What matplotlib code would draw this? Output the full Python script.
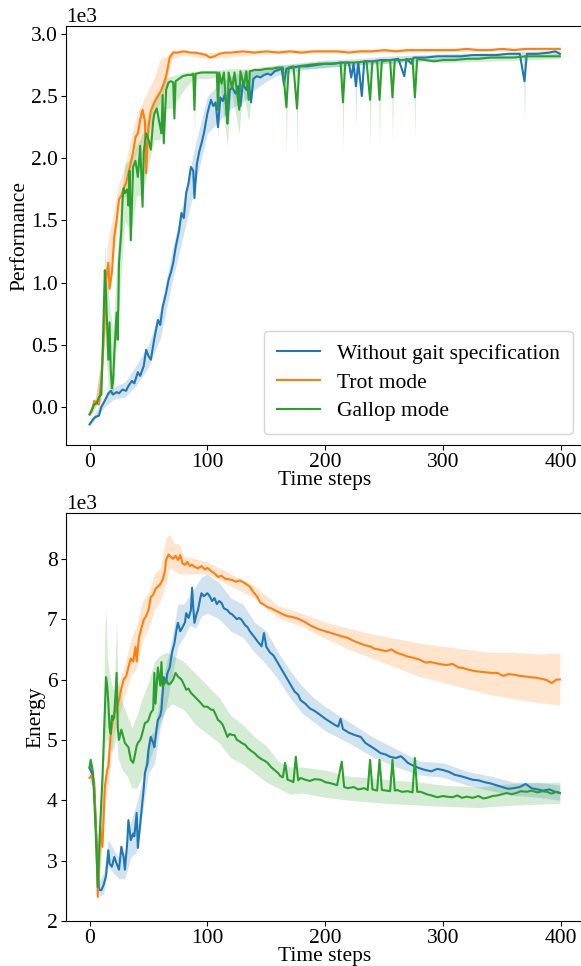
import numpy as np
import matplotlib
matplotlib.use("Agg")
import matplotlib.pyplot as plt

plt.rcParams["font.family"] = ["Liberation Serif", "DejaVu Serif"]
plt.rcParams["font.size"] = 15.5

SCALE = 1000.0
LABELS = ["Without gait specification", "Trot mode", "Gallop mode"]
COLORS = ["#1f77b4", "#ff7f0e", "#2ca02c"]

# ---------------- Performance (values in thousands) ----------------
perf_x_none = [0, 3, 5, 8, 10, 13, 16, 18, 20, 23,
               25, 28, 31, 33, 36, 38, 41, 43, 46, 48,
               50, 52, 55, 58, 60, 62, 65, 67, 69, 71,
               73, 76, 78, 80, 82, 84, 86, 88, 89, 91,
               93, 95, 97, 100, 103, 105, 107, 109, 111, 113,
               115, 117, 119, 121, 124, 126, 128, 130, 133, 135,
               137, 139, 142, 145, 148, 151, 154, 157, 160, 163,
               165, 167, 172, 178, 185, 192, 200, 207, 214, 220,
               222, 224, 226, 228, 231, 233, 240, 247, 255, 262,
               267, 269, 273, 275, 285, 295, 305, 315, 325, 335,
               345, 355, 365, 369, 371, 380, 390, 395, 399]
perf_none = [-0.14, -0.10, -0.08, -0.07, 0.00, 0.05, 0.11, 0.13, 0.10, 0.12,
             0.11, 0.14, 0.13, 0.17, 0.21, 0.19, 0.28, 0.25, 0.33, 0.46,
             0.41, 0.38, 0.55, 0.70, 0.66, 0.80, 0.92, 1.02, 1.08, 1.16,
             1.28, 1.42, 1.56, 1.52, 1.72, 1.80, 1.93, 1.90, 1.68, 1.95,
             2.05, 2.12, 2.20, 2.36, 2.47, 2.42, 2.45, 2.25, 2.49, 2.46,
             2.52, 2.28, 2.55, 2.57, 2.52, 2.58, 2.42, 2.60, 2.55, 2.62,
             2.45, 2.64, 2.66, 2.65, 2.67, 2.68, 2.67, 2.70, 2.71, 2.72,
             2.59, 2.72, 2.73, 2.74, 2.74, 2.75, 2.76, 2.76, 2.77, 2.77,
             2.65, 2.76, 2.58, 2.77, 2.50, 2.78, 2.78, 2.79, 2.79, 2.80,
             2.66, 2.80, 2.76, 2.81, 2.81, 2.82, 2.82, 2.82, 2.83, 2.83,
             2.83, 2.84, 2.84, 2.62, 2.84, 2.84, 2.85, 2.86, 2.84]
perf_band_x_none = [0, 10, 20, 30, 40, 50, 60, 70, 80, 90,
                    100, 110, 120, 130, 140, 150, 160, 180, 200, 225,
                    226, 227, 250, 300, 350, 368, 369, 370, 399]
perf_lo_none = [-0.16, -0.03, 0.06, 0.08, 0.18, 0.32, 0.55, 1.00, 1.40, 1.80,
                2.20, 2.30, 2.40, 2.45, 2.55, 2.62, 2.67, 2.71, 2.73, 2.75,
                2.25, 2.75, 2.76, 2.80, 2.81, 2.82, 2.30, 2.82, 2.82]
perf_hi_none = [-0.12, 0.04, 0.16, 0.20, 0.34, 0.50, 0.78, 1.25, 1.68, 2.12,
                2.50, 2.60, 2.66, 2.70, 2.72, 2.73, 2.75, 2.77, 2.79, 2.80,
                2.80, 2.80, 2.82, 2.84, 2.85, 2.86, 2.86, 2.86, 2.87]

perf_x_trot = [0, 2, 4, 6, 8, 10, 12, 13, 14, 16,
               17, 19, 21, 23, 25, 27, 29, 31, 33, 35,
               37, 39, 41, 43, 45, 47, 48, 50, 52, 55,
               58, 61, 63, 65, 67, 68, 71, 75, 80, 85,
               90, 95, 99, 102, 106, 110, 115, 120, 130, 140,
               150, 160, 170, 180, 190, 200, 210, 220, 230, 240,
               250, 260, 270, 280, 290, 300, 310, 320, 330, 340,
               350, 360, 370, 380, 390, 399]
perf_trot = [-0.06, -0.03, 0.05, 0.03, 0.02, 0.22, 0.55, 0.75, 1.02, 1.16,
             0.95, 1.08, 1.37, 1.50, 1.67, 1.70, 1.76, 1.80, 1.88, 1.96,
             2.05, 2.17, 2.20, 2.31, 2.39, 2.30, 1.88, 2.25, 2.38, 2.45,
             2.50, 2.55, 2.60, 2.66, 2.76, 2.81, 2.85, 2.85, 2.86, 2.85,
             2.85, 2.84, 2.83, 2.81, 2.82, 2.84, 2.85, 2.85, 2.86, 2.85,
             2.86, 2.85, 2.86, 2.85, 2.86, 2.86, 2.86, 2.85, 2.86, 2.86,
             2.87, 2.86, 2.87, 2.87, 2.87, 2.87, 2.87, 2.88, 2.87, 2.87,
             2.88, 2.87, 2.88, 2.88, 2.88, 2.88]
perf_band_x_trot = [0, 5, 10, 15, 20, 25, 30, 40, 50, 55,
                    60, 65, 70, 80, 100, 150, 250, 399]
perf_lo_trot = [-0.08, 0.00, 0.12, 0.85, 1.20, 1.55, 1.70, 2.05, 2.20, 2.35,
                2.45, 2.58, 2.80, 2.83, 2.80, 2.84, 2.85, 2.87]
perf_hi_trot = [-0.04, 0.08, 0.35, 1.30, 1.55, 1.80, 1.95, 2.35, 2.55, 2.65,
                2.80, 2.82, 2.87, 2.87, 2.85, 2.87, 2.88, 2.89]

perf_x_gallop = [0, 2, 4, 6, 8, 10, 11, 13, 14, 16,
                 17, 18, 19, 20, 21, 23, 24, 25, 27, 28,
                 29, 30, 32, 33, 34, 35, 37, 39, 41, 43,
                 45, 46, 48, 50, 52, 54, 55, 57, 59, 61,
                 62, 63, 65, 67, 69, 71, 72, 73, 76, 79,
                 83, 86, 88, 89, 90, 95, 100, 105, 108, 109,
                 110, 112, 114, 117, 118, 121, 123, 127, 128, 131,
                 133, 135, 136, 140, 145, 150, 155, 160, 164, 167,
                 169, 173, 176, 178, 185, 195, 205, 213, 215, 217,
                 225, 235, 238, 240, 244, 246, 248, 255, 257, 259,
                 265, 274, 276, 278, 285, 292, 300, 310, 320, 330,
                 340, 350, 360, 370, 380, 390, 399]
perf_gallop = [-0.06, -0.02, 0.02, 0.03, 0.08, 0.10, 0.40, 1.10, 0.90, 0.38,
               0.68, 0.30, 0.15, 0.20, 0.43, 0.76, 0.54, 1.16, 1.42, 1.67,
               1.76, 1.72, 1.75, 1.62, 1.90, 1.34, 1.93, 1.98, 1.85, 2.10,
               1.61, 2.05, 2.20, 2.15, 2.07, 2.30, 2.36, 2.40, 2.30, 2.20,
               2.51, 2.12, 2.55, 2.61, 2.62, 2.61, 2.32, 2.62, 2.64, 2.66,
               2.67, 2.67, 2.68, 2.39, 2.68, 2.69, 2.69, 2.69, 2.69, 2.39,
               2.69, 2.60, 2.69, 2.28, 2.69, 2.56, 2.69, 2.39, 2.70, 2.58,
               2.70, 2.47, 2.70, 2.71, 2.71, 2.72, 2.72, 2.73, 2.73, 2.41,
               2.73, 2.74, 2.40, 2.74, 2.75, 2.76, 2.76, 2.77, 2.45, 2.77,
               2.77, 2.78, 2.47, 2.78, 2.78, 2.47, 2.78, 2.79, 2.49, 2.79,
               2.79, 2.80, 2.49, 2.80, 2.79, 2.78, 2.79, 2.79, 2.80, 2.80,
               2.81, 2.81, 2.81, 2.82, 2.82, 2.82, 2.82]
perf_band_x_gallop = [0, 5, 10, 13, 16, 20, 25, 30, 35, 40,
                      45, 50, 55, 60, 65, 70, 80, 88, 89, 90,
                      100, 108, 109, 110, 117, 120, 127, 130, 135, 140,
                      160, 166, 167, 168, 175, 176, 177, 200, 214, 215,
                      216, 237, 238, 239, 245, 246, 247, 256, 257, 258,
                      275, 276, 277, 300, 399]
perf_lo_gallop = [-0.08, 0.00, 0.05, 0.60, 0.10, 0.10, 0.80, 1.50, 1.40, 1.70,
                  1.70, 1.95, 2.15, 2.15, 2.40, 2.40, 2.55, 2.64, 2.20, 2.64,
                  2.64, 2.65, 2.15, 2.64, 2.10, 2.55, 2.20, 2.55, 2.30, 2.66,
                  2.70, 2.71, 2.01, 2.71, 2.72, 2.01, 2.72, 2.73, 2.74, 2.07,
                  2.74, 2.76, 2.10, 2.76, 2.76, 2.10, 2.76, 2.77, 2.12, 2.77,
                  2.78, 2.15, 2.78, 2.77, 2.80]
perf_hi_gallop = [-0.04, 0.06, 0.40, 1.30, 0.90, 0.60, 1.50, 1.95, 2.00, 2.10,
                  2.20, 2.35, 2.50, 2.55, 2.65, 2.66, 2.69, 2.70, 2.70, 2.70,
                  2.71, 2.71, 2.71, 2.71, 2.72, 2.72, 2.72, 2.72, 2.72, 2.73,
                  2.75, 2.75, 2.75, 2.75, 2.76, 2.76, 2.76, 2.78, 2.78, 2.78,
                  2.78, 2.79, 2.79, 2.79, 2.79, 2.79, 2.79, 2.80, 2.80, 2.80,
                  2.80, 2.80, 2.80, 2.81, 2.84]

# ---------------- Energy (values in thousands) ----------------
en_x_none = [0, 2, 4, 6, 8, 10, 12, 14, 16, 17,
             19, 21, 23, 25, 27, 29, 30, 32, 33, 35,
             37, 38, 40, 41, 43, 44, 46, 47, 49, 50,
             52, 54, 55, 57, 58, 60, 61, 63, 65, 66,
             68, 70, 72, 74, 75, 77, 79, 81, 82, 84,
             86, 87, 88, 89, 91, 92, 94, 95, 97, 100,
             102, 104, 106, 108, 110, 112, 114, 117, 119, 121,
             123, 125, 127, 129, 132, 134, 136, 138, 140, 143,
             146, 148, 150, 153, 156, 159, 162, 165, 168, 171,
             174, 177, 179, 183, 187, 191, 196, 200, 204, 208,
             211, 213, 215, 220, 225, 230, 234, 238, 242, 247,
             251, 255, 260, 264, 266, 270, 275, 280, 285, 290,
             295, 300, 305, 310, 315, 320, 325, 330, 335, 340,
             345, 350, 355, 360, 365, 370, 375, 380, 385, 390,
             395, 399]
en_none = [4.53, 4.45, 4.20, 3.30, 2.52, 2.51, 2.60, 2.75, 3.17, 2.95,
           2.90, 3.06, 2.95, 2.85, 3.23, 3.05, 2.85, 3.30, 3.67, 3.34,
           3.45, 3.40, 3.79, 3.21, 3.60, 3.79, 4.20, 4.45, 4.60, 4.83,
           5.05, 4.95, 4.88, 5.20, 5.33, 5.40, 5.50, 6.04, 5.95, 6.10,
           6.20, 6.45, 6.60, 6.85, 6.94, 6.80, 6.87, 6.95, 7.10, 7.02,
           7.15, 7.52, 7.20, 6.94, 7.10, 7.15, 7.35, 7.43, 7.38, 7.43,
           7.38, 7.30, 7.35, 7.25, 7.30, 7.27, 7.18, 7.15, 7.10, 7.08,
           7.04, 7.00, 7.02, 6.99, 6.90, 6.87, 6.80, 6.75, 6.70, 6.62,
           6.55, 6.77, 6.54, 6.45, 6.40, 6.30, 6.20, 6.10, 6.00, 5.90,
           5.80, 5.75, 5.66, 5.60, 5.52, 5.48, 5.41, 5.35, 5.30, 5.25,
           5.22, 5.35, 5.18, 5.12, 5.08, 5.05, 4.95, 4.90, 4.85, 4.78,
           4.76, 4.72, 4.70, 4.73, 4.70, 4.62, 4.57, 4.53, 4.50, 4.48,
           4.52, 4.50, 4.47, 4.42, 4.40, 4.37, 4.34, 4.33, 4.30, 4.28,
           4.25, 4.22, 4.19, 4.20, 4.22, 4.27, 4.20, 4.18, 4.16, 4.18,
           4.14, 4.12]
en_band_x_none = [0, 4, 8, 12, 16, 20, 25, 30, 35, 40,
                  45, 50, 55, 60, 65, 70, 75, 80, 85, 90,
                  95, 100, 110, 120, 130, 140, 150, 160, 170, 180,
                  190, 200, 220, 240, 260, 280, 300, 320, 340, 360,
                  380, 399]
en_lo_none = [4.45, 4.05, 2.40, 2.45, 2.90, 2.80, 2.70, 2.70, 3.05, 3.15,
              3.80, 4.45, 4.60, 5.20, 5.55, 6.05, 6.55, 6.70, 6.90, 6.85,
              7.05, 7.10, 7.00, 6.80, 6.70, 6.45, 6.25, 6.00, 5.70, 5.45,
              5.30, 5.15, 4.95, 4.72, 4.55, 4.42, 4.38, 4.25, 4.16, 4.08,
              4.05, 4.00]
en_hi_none = [4.60, 4.35, 2.65, 2.80, 3.35, 3.20, 3.05, 3.15, 3.65, 3.95,
              4.35, 5.05, 5.15, 5.75, 6.25, 6.70, 7.25, 7.25, 7.40, 7.55,
              7.70, 7.75, 7.60, 7.35, 7.25, 6.95, 6.80, 6.45, 6.15, 5.90,
              5.70, 5.55, 5.30, 5.05, 4.85, 4.65, 4.62, 4.48, 4.40, 4.30,
              4.30, 4.25]

en_x_trot = [0, 2, 4, 6, 7, 9, 11, 13, 15, 16,
             18, 20, 21, 23, 25, 27, 29, 31, 33, 35,
             37, 39, 40, 42, 44, 46, 48, 50, 52, 54,
             56, 58, 60, 62, 64, 65, 67, 69, 71, 73,
             75, 77, 79, 81, 83, 85, 87, 89, 92, 95,
             98, 100, 103, 106, 109, 112, 115, 118, 121, 124,
             127, 130, 133, 136, 139, 142, 145, 148, 151, 154,
             157, 160, 164, 168, 171, 175, 179, 183, 187, 190,
             195, 200, 205, 210, 215, 219, 224, 228, 233, 238,
             242, 247, 252, 256, 261, 266, 270, 275, 280, 285,
             289, 294, 299, 303, 308, 313, 317, 322, 327, 331,
             336, 341, 346, 351, 355, 360, 365, 370, 374, 379,
             384, 388, 392, 396, 399]
en_trot = [4.37, 4.42, 4.30, 3.20, 2.40, 3.56, 3.23, 4.22, 4.50, 4.55,
           5.10, 5.35, 5.45, 5.50, 5.66, 5.85, 6.00, 6.05, 6.20, 6.35,
           6.30, 6.54, 6.30, 6.70, 6.85, 6.99, 7.05, 7.15, 7.37, 7.40,
           7.50, 7.54, 7.58, 7.65, 7.80, 7.98, 8.07, 8.03, 8.00, 8.05,
           7.98, 8.06, 7.92, 7.90, 7.95, 7.88, 7.90, 7.87, 7.84, 7.88,
           7.82, 7.85, 7.80, 7.76, 7.70, 7.72, 7.67, 7.66, 7.65, 7.62,
           7.64, 7.62, 7.58, 7.54, 7.45, 7.38, 7.27, 7.24, 7.20, 7.18,
           7.15, 7.12, 7.08, 7.05, 7.04, 7.02, 6.99, 6.95, 6.90, 6.87,
           6.83, 6.80, 6.77, 6.74, 6.71, 6.69, 6.64, 6.61, 6.57, 6.55,
           6.51, 6.49, 6.47, 6.50, 6.44, 6.41, 6.38, 6.36, 6.33, 6.28,
           6.29, 6.27, 6.25, 6.24, 6.26, 6.20, 6.19, 6.16, 6.14, 6.13,
           6.12, 6.11, 6.11, 6.06, 6.09, 6.08, 6.06, 6.05, 6.04, 6.03,
           6.01, 5.99, 5.94, 6.00, 6.00]
en_band_x_trot = [0, 4, 7, 10, 13, 16, 20, 25, 30, 35,
                  40, 45, 50, 55, 60, 65, 68, 72, 76, 80,
                  90, 100, 120, 140, 160, 180, 200, 220, 240, 260,
                  280, 300, 320, 340, 360, 380, 399]
en_lo_trot = [4.30, 4.20, 2.30, 3.00, 3.90, 4.25, 5.05, 5.40, 5.75, 6.05,
              6.20, 6.65, 6.85, 7.15, 7.30, 7.60, 7.85, 7.80, 7.75, 7.75,
              7.75, 7.75, 7.55, 7.35, 7.02, 6.88, 6.68, 6.50, 6.35, 6.20,
              6.05, 5.95, 5.85, 5.75, 5.68, 5.62, 5.58]
en_hi_trot = [4.45, 4.40, 2.55, 3.80, 4.50, 4.85, 5.65, 5.95, 6.25, 6.65,
              6.90, 7.30, 7.45, 7.75, 7.85, 8.35, 8.40, 8.25, 8.25, 8.05,
              8.00, 7.95, 7.75, 7.55, 7.22, 7.10, 6.95, 6.85, 6.75, 6.68,
              6.60, 6.55, 6.50, 6.45, 6.45, 6.42, 6.44]

en_x_gallop = [0, 1, 3, 5, 7, 9, 11, 13, 14, 15,
               16, 17, 18, 19, 20, 21, 22, 23, 24, 25,
               27, 28, 30, 32, 33, 35, 37, 38, 40, 41,
               43, 44, 46, 47, 49, 50, 52, 54, 55, 56,
               58, 60, 61, 62, 64, 65, 67, 69, 71, 73,
               75, 78, 80, 82, 84, 86, 88, 90, 92, 94,
               97, 100, 103, 105, 107, 109, 111, 113, 115, 117,
               119, 121, 123, 125, 127, 129, 132, 134, 137, 140,
               143, 146, 149, 151, 154, 157, 160, 162, 164, 166,
               168, 171, 173, 175, 177, 179, 183, 187, 191, 196,
               200, 205, 210, 214, 216, 219, 224, 228, 233, 236,
               238, 240, 244, 246, 248, 252, 255, 257, 259, 261,
               265, 270, 274, 276, 278, 281, 286, 290, 295, 300,
               303, 308, 312, 316, 320, 325, 330, 334, 337, 342,
               346, 350, 354, 358, 362, 366, 371, 375, 380, 384,
               388, 392, 396, 399]
en_gallop = [4.55, 4.67, 4.45, 3.60, 2.56, 3.56, 4.38, 5.50, 6.04, 5.90,
             5.60, 5.20, 5.10, 5.40, 5.33, 5.38, 5.75, 6.11, 5.20, 5.00,
             5.17, 5.10, 4.95, 4.90, 4.88, 4.67, 4.62, 4.70, 4.90, 4.95,
             5.00, 5.05, 5.20, 5.28, 5.30, 5.33, 5.45, 5.50, 6.11, 5.60,
             6.20, 5.90, 6.29, 5.88, 5.95, 6.00, 5.92, 5.94, 6.00, 6.11,
             6.05, 6.00, 5.92, 5.83, 5.85, 5.78, 5.74, 5.70, 5.66, 5.62,
             5.55, 5.55, 5.50, 5.50, 5.42, 5.33, 5.30, 5.25, 5.15, 5.05,
             5.10, 5.08, 5.08, 5.00, 4.98, 4.95, 4.92, 4.87, 4.82, 4.78,
             4.72, 4.68, 4.65, 4.62, 4.55, 4.50, 4.45, 4.40, 4.38, 4.62,
             4.34, 4.32, 4.30, 4.72, 4.33, 4.37, 4.34, 4.32, 4.35, 4.34,
             4.30, 4.28, 4.25, 4.64, 4.22, 4.20, 4.22, 4.18, 4.20, 4.17,
             4.67, 4.18, 4.16, 4.67, 4.17, 4.16, 4.15, 4.67, 4.16, 4.17,
             4.14, 4.15, 4.13, 4.70, 4.14, 4.14, 4.10, 4.08, 4.05, 4.07,
             4.06, 4.05, 4.08, 4.04, 4.06, 4.04, 4.07, 4.03, 4.04, 4.07,
             4.08, 4.10, 4.12, 4.10, 4.12, 4.15, 4.14, 4.16, 4.13, 4.15,
             4.14, 4.11, 4.14, 4.12]
en_band_x_gallop = [0, 3, 7, 10, 12, 13, 14, 15, 16, 19,
                    21, 22, 23, 24, 28, 32, 36, 40, 45, 50,
                    55, 60, 65, 70, 80, 90, 100, 110, 120, 130,
                    140, 150, 160, 170, 180, 200, 220, 250, 280, 300,
                    330, 360, 399]
en_lo_gallop = [4.48, 4.35, 2.45, 3.20, 4.60, 4.80, 5.00, 5.00, 4.90, 4.80,
                4.90, 5.00, 5.10, 4.70, 4.50, 4.40, 4.20, 4.20, 4.40, 4.60,
                4.90, 5.30, 5.50, 5.60, 5.50, 5.25, 5.10, 4.95, 4.70, 4.60,
                4.45, 4.30, 4.20, 4.10, 4.12, 4.05, 4.00, 3.95, 3.92, 3.90,
                3.88, 3.92, 3.95]
en_hi_gallop = [4.62, 4.60, 2.70, 4.30, 5.60, 6.80, 7.15, 6.40, 6.20, 5.90,
                5.80, 6.40, 7.00, 6.00, 5.60, 5.40, 5.20, 5.40, 5.70, 5.95,
                6.30, 6.40, 6.45, 6.40, 6.30, 6.10, 5.90, 5.70, 5.40, 5.25,
                5.05, 4.90, 4.65, 4.55, 4.55, 4.50, 4.40, 4.35, 4.30, 4.25,
                4.22, 4.28, 4.30]

perf_series = [
    (perf_x_none, perf_none, perf_band_x_none, perf_lo_none, perf_hi_none),
    (perf_x_trot, perf_trot, perf_band_x_trot, perf_lo_trot, perf_hi_trot),
    (perf_x_gallop, perf_gallop, perf_band_x_gallop, perf_lo_gallop, perf_hi_gallop),
]
en_series = [
    (en_x_none, en_none, en_band_x_none, en_lo_none, en_hi_none),
    (en_x_trot, en_trot, en_band_x_trot, en_lo_trot, en_hi_trot),
    (en_x_gallop, en_gallop, en_band_x_gallop, en_lo_gallop, en_hi_gallop),
]

fig = plt.figure(figsize=(5.81, 9.66), dpi=100)
ax1 = fig.add_axes([0.1136, 0.5393, 0.8905, 0.4338])
ax2 = fig.add_axes([0.1136, 0.0466, 0.8905, 0.4224])


def draw(ax, series):
    for (x, y, bx, lo, hi), c, lab in zip(series, COLORS, LABELS):
        assert len(x) == len(y) and len(bx) == len(lo) == len(hi)
        ax.fill_between(bx, np.array(lo) * SCALE, np.array(hi) * SCALE,
                        color=c, alpha=0.2, lw=0)
        ax.plot(x, np.array(y) * SCALE, color=c, lw=1.5, label=lab)
    ax.set_xlim(-19.95, 418.95)
    ax.set_xticks([0, 100, 200, 300, 400])
    ax.set_xlabel("Time steps", labelpad=-1)
    ax.tick_params(pad=2.5)
    ax.ticklabel_format(axis="y", style="sci", scilimits=(0, 0))
    ax.yaxis.get_offset_text().set_fontsize(15.5)


draw(ax1, perf_series)
ax1.set_ylim(-306, 3064)
ax1.set_yticks([0, 500, 1000, 1500, 2000, 2500, 3000])
ax1.set_ylabel("Performance", labelpad=1)
ax1.legend(loc="lower right", fontsize=15.5, handlelength=2.0,
           borderpad=0.6, labelspacing=0.4)

draw(ax2, en_series)
ax2.set_ylim(2000, 8760)
ax2.set_yticks([2000, 3000, 4000, 5000, 6000, 7000, 8000])
ax2.set_ylabel("Energy", labelpad=1)

fig.savefig("out.png", dpi=100)
